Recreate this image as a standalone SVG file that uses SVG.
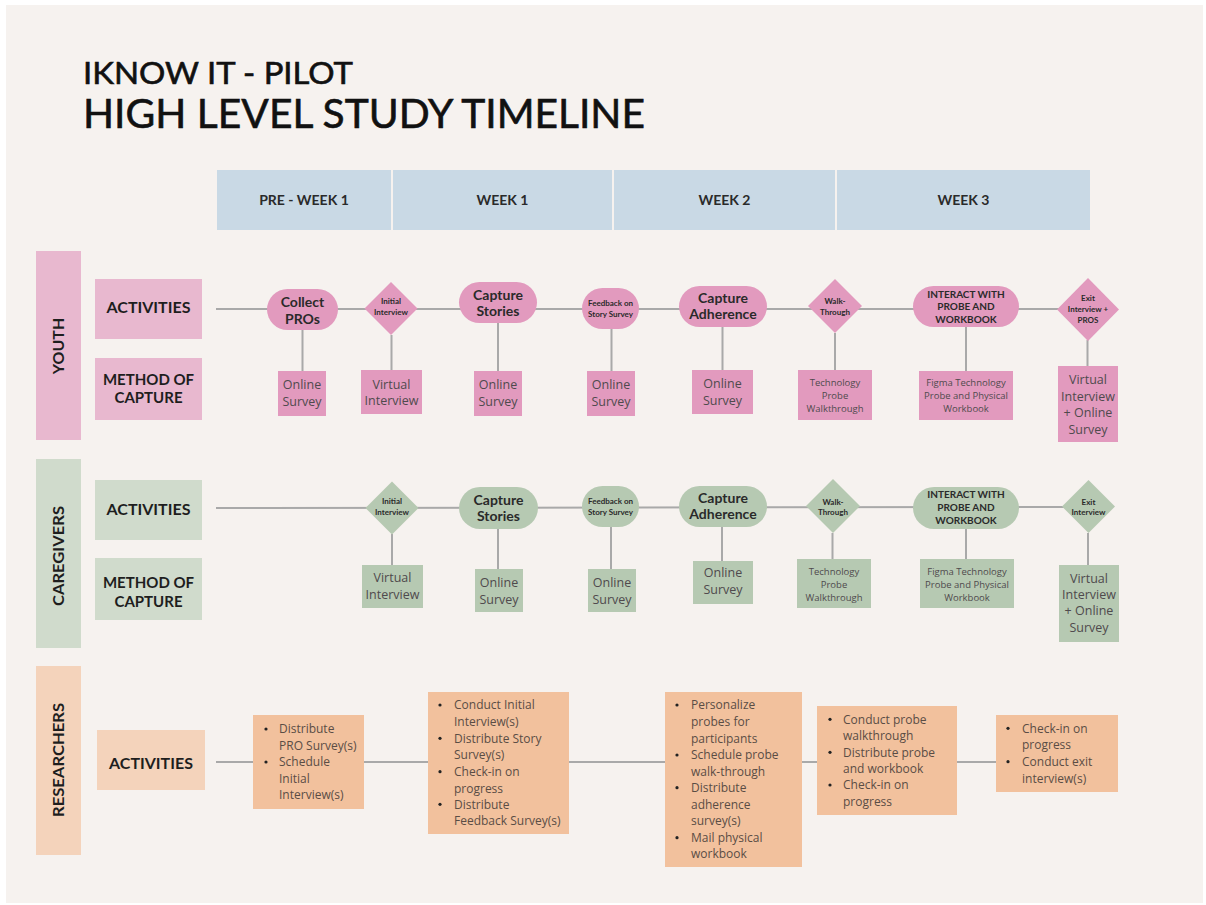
<svg xmlns="http://www.w3.org/2000/svg" width="1206" height="905" viewBox="0 0 1206 905">
  <style>
    .title { font-family: Lato, "Liberation Sans", sans-serif; fill: #111; stroke: #111; stroke-width: 0.6; }
    .hdr { fill: #c9d9e5; }
    .hdrtxt { font-family: Lato, "Liberation Sans", sans-serif; font-weight: 700; font-size: 14px; fill: #2a2a2a; text-anchor: middle; }
    .lbl { font-family: Lato, "Liberation Sans", sans-serif; font-weight: 700; fill: #1e1e1e; text-anchor: middle; }
    .lbl16 { font-size: 16px; }
    .lbl15 { font-size: 15px; }
    .vlbl { font-family: Lato, "Liberation Sans", sans-serif; font-weight: 700; font-size: 16px; fill: #1e1e1e; text-anchor: middle; }
    .pinkL { fill: #e8b8cf; }
    .pink { fill: #e29abe; }
    .greenL { fill: #d0dbcc; }
    .green { fill: #b6c9b2; }
    .orangeL { fill: #f4d3bb; }
    .orange { fill: #f2c19d; }
    .node { font-family: Lato, "Liberation Sans", sans-serif; font-weight: 700; fill: #2a2a2a; text-anchor: middle; }
    .n13 { font-size: 14px; }
    .n10 { font-size: 10px; }
    .n8 { font-size: 8px; }
    .m { font-family: "Open Sans", "Liberation Sans", sans-serif; fill: #4f4a4d; text-anchor: middle; }
    .m13 { font-size: 12.5px; }
    .m10 { font-size: 9.5px; }
    .r { font-family: "Open Sans", "Liberation Sans", sans-serif; font-size: 12px; fill: #5a4d45; }
    .dot { fill: #222; }
    .conn line { stroke: #a9a9a9; stroke-width: 2; }
  </style>

  <!-- page -->
  <rect x="0" y="0" width="1206" height="905" fill="#ffffff"/>
  <rect x="6" y="5" width="1197" height="898" fill="#f6f2ef"/>

  <!-- title -->
  <g id="title">
    <text class="title" x="83" y="84" font-size="30" textLength="270" lengthAdjust="spacingAndGlyphs">IKNOW IT - PILOT</text>
    <text class="title" x="83" y="128" font-size="40" textLength="562" lengthAdjust="spacingAndGlyphs">HIGH LEVEL STUDY TIMELINE</text>
  </g>

  <!-- week header -->
  <g id="header">
    <rect class="hdr" x="217" y="170" width="174" height="60"/>
    <rect class="hdr" x="393" y="170" width="219" height="60"/>
    <rect class="hdr" x="614" y="170" width="221" height="60"/>
    <rect class="hdr" x="837" y="170" width="253" height="60"/>
    <text class="hdrtxt" x="304" y="205">PRE - WEEK 1</text>
    <text class="hdrtxt" x="502.5" y="205">WEEK 1</text>
    <text class="hdrtxt" x="724.5" y="205">WEEK 2</text>
    <text class="hdrtxt" x="963.5" y="205">WEEK 3</text>
  </g>

  <!-- lane labels -->
  <g id="lane-youth">
    <rect class="pinkL" x="36" y="251" width="45" height="189"/>
    <text class="vlbl" transform="translate(58,346) rotate(-90)" y="5.5">YOUTH</text>
    <rect class="pinkL" x="95" y="279" width="107" height="60"/>
    <text class="lbl lbl16" x="148.5" y="313">ACTIVITIES</text>
    <rect class="pinkL" x="95" y="358" width="107" height="62"/>
    <text class="lbl lbl15" x="148.5" y="384.5">METHOD OF</text>
    <text class="lbl lbl15" x="148.5" y="403">CAPTURE</text>
  </g>
  <g id="lane-caregivers">
    <rect class="greenL" x="36" y="459" width="45" height="189"/>
    <text class="vlbl" transform="translate(58,556) rotate(-90)" y="5.5" textLength="100" lengthAdjust="spacingAndGlyphs">CAREGIVERS</text>
    <rect class="greenL" x="95" y="480" width="107" height="60"/>
    <text class="lbl lbl16" x="148.5" y="515">ACTIVITIES</text>
    <rect class="greenL" x="95" y="558" width="107" height="62"/>
    <text class="lbl lbl15" x="148.5" y="588">METHOD OF</text>
    <text class="lbl lbl15" x="148.5" y="606.5">CAPTURE</text>
  </g>
  <g id="lane-researchers">
    <rect class="orangeL" x="36" y="666" width="45" height="189"/>
    <text class="vlbl" transform="translate(58,760) rotate(-90)" y="5.5" textLength="114" lengthAdjust="spacingAndGlyphs">RESEARCHERS</text>
    <rect class="orangeL" x="97" y="730" width="108" height="60"/>
    <text class="lbl lbl16" x="151" y="768.5">ACTIVITIES</text>
  </g>

  <!-- connectors -->
  <g id="connectors" class="conn">
    <line x1="216" y1="309" x2="1060" y2="309"/>
    <line x1="302.5" y1="330" x2="302.5" y2="371"/>
    <line x1="391.5" y1="335" x2="391.5" y2="370"/>
    <line x1="498" y1="323" x2="498" y2="371"/>
    <line x1="611.5" y1="329" x2="611.5" y2="371"/>
    <line x1="722.5" y1="327" x2="722.5" y2="370"/>
    <line x1="835" y1="333" x2="835" y2="370"/>
    <line x1="966" y1="327" x2="966" y2="371"/>
    <line x1="1087.5" y1="340" x2="1087.5" y2="366"/>

    <line x1="216" y1="508" x2="1064" y2="507"/>
    <line x1="392" y1="534" x2="392" y2="565"/>
    <line x1="498" y1="529" x2="498" y2="569"/>
    <line x1="611" y1="527" x2="611" y2="569"/>
    <line x1="722" y1="527" x2="722" y2="561"/>
    <line x1="832.5" y1="533" x2="832.5" y2="559"/>
    <line x1="966" y1="529" x2="966" y2="559"/>
    <line x1="1088" y1="533" x2="1088" y2="565"/>

    <line x1="216" y1="762" x2="996" y2="762"/>
  </g>

  <!-- youth activities -->
  <g id="y-collect-pros">
    <rect class="pink" x="267" y="289" width="71" height="41" rx="20.5"/>
    <text class="node n13" x="302.5" y="306.5">Collect</text>
    <text class="node n13" x="302.5" y="323.5">PROs</text>
  </g>
  <g id="y-initial-interview">
    <polygon class="pink" points="391,282 417.5,308.5 391,335 364.5,308.5"/>
    <text class="node n8" x="391" y="304">Initial</text>
    <text class="node n8" x="391" y="315">Interview</text>
  </g>
  <g id="y-capture-stories">
    <rect class="pink" x="459" y="282" width="78" height="41" rx="20.5"/>
    <text class="node n13" x="498" y="300">Capture</text>
    <text class="node n13" x="498" y="316">Stories</text>
  </g>
  <g id="y-feedback">
    <rect class="pink" x="582" y="288" width="57" height="41" rx="20.5"/>
    <text class="node n8" x="610.5" y="306">Feedback on</text>
    <text class="node n8" x="610.5" y="317">Story Survey</text>
  </g>
  <g id="y-capture-adherence">
    <rect class="pink" x="679" y="286" width="88" height="41" rx="20.5"/>
    <text class="node n13" x="723" y="302.5">Capture</text>
    <text class="node n13" x="723" y="318.5">Adherence</text>
  </g>
  <g id="y-walkthrough">
    <polygon class="pink" points="835,279 862,306 835,333 808,306"/>
    <text class="node n8" x="835" y="304">Walk-</text>
    <text class="node n8" x="835" y="315">Through</text>
  </g>
  <g id="y-interact">
    <rect class="pink" x="913" y="286" width="106" height="41" rx="20.5"/>
    <text class="node n10" x="966" y="297.5">INTERACT WITH</text>
    <text class="node n10" x="966" y="309.5">PROBE AND</text>
    <text class="node n10" x="966" y="322.5">WORKBOOK</text>
  </g>
  <g id="y-exit">
    <polygon class="pink" points="1088,278 1119,309.5 1088,341 1057,309.5"/>
    <text class="node n8" x="1088" y="301">Exit</text>
    <text class="node n8" x="1088" y="312">Interview +</text>
    <text class="node n8" x="1088" y="323">PROS</text>
  </g>

  <!-- youth method of capture -->
  <g id="y-m1">
    <rect class="pink" x="278" y="371" width="48" height="45"/>
    <text class="m m13" x="302" y="388.5">Online</text>
    <text class="m m13" x="302" y="405.5">Survey</text>
  </g>
  <g id="y-m2">
    <rect class="pink" x="361" y="370" width="61" height="44"/>
    <text class="m m13" x="391.5" y="388.5">Virtual</text>
    <text class="m m13" x="391.5" y="405">Interview</text>
  </g>
  <g id="y-m3">
    <rect class="pink" x="474" y="371" width="48" height="45"/>
    <text class="m m13" x="498" y="388.5">Online</text>
    <text class="m m13" x="498" y="405.5">Survey</text>
  </g>
  <g id="y-m4">
    <rect class="pink" x="587" y="371" width="48" height="45"/>
    <text class="m m13" x="611" y="388.5">Online</text>
    <text class="m m13" x="611" y="405.5">Survey</text>
  </g>
  <g id="y-m5">
    <rect class="pink" x="692" y="370" width="61" height="44"/>
    <text class="m m13" x="722.5" y="388">Online</text>
    <text class="m m13" x="722.5" y="404.5">Survey</text>
  </g>
  <g id="y-m6">
    <rect class="pink" x="798" y="370" width="74" height="50"/>
    <text class="m m10" x="835" y="385.5">Technology</text>
    <text class="m m10" x="835" y="399">Probe</text>
    <text class="m m10" x="835" y="411.5">Walkthrough</text>
  </g>
  <g id="y-m7">
    <rect class="pink" x="919" y="371" width="94" height="49"/>
    <text class="m m10" x="966" y="385.5">Figma Technology</text>
    <text class="m m10" x="966" y="399">Probe and Physical</text>
    <text class="m m10" x="966" y="411.5">Workbook</text>
  </g>
  <g id="y-m8">
    <rect class="pink" x="1058" y="366" width="60" height="76"/>
    <text class="m m13" x="1088" y="383.5">Virtual</text>
    <text class="m m13" x="1088" y="400.5">Interview</text>
    <text class="m m13" x="1088" y="416.5">+ Online</text>
    <text class="m m13" x="1088" y="433.5">Survey</text>
  </g>

  <!-- caregiver activities -->
  <g id="c-initial-interview">
    <polygon class="green" points="392,481.5 418.5,508 392,534.5 365.5,508"/>
    <text class="node n8" x="392" y="504">Initial</text>
    <text class="node n8" x="392" y="515">Interview</text>
  </g>
  <g id="c-capture-stories">
    <rect class="green" x="459" y="487" width="79" height="42" rx="21"/>
    <text class="node n13" x="498.5" y="505">Capture</text>
    <text class="node n13" x="498.5" y="521">Stories</text>
  </g>
  <g id="c-feedback">
    <rect class="green" x="582" y="486" width="57" height="41" rx="20.5"/>
    <text class="node n8" x="610.5" y="504">Feedback on</text>
    <text class="node n8" x="610.5" y="515">Story Survey</text>
  </g>
  <g id="c-capture-adherence">
    <rect class="green" x="679" y="486" width="88" height="41" rx="20.5"/>
    <text class="node n13" x="723" y="503">Capture</text>
    <text class="node n13" x="723" y="519">Adherence</text>
  </g>
  <g id="c-walkthrough">
    <polygon class="green" points="833,479 860,506 833,533 806,506"/>
    <text class="node n8" x="833" y="504.5">Walk-</text>
    <text class="node n8" x="833" y="515">Through</text>
  </g>
  <g id="c-interact">
    <rect class="green" x="913" y="487" width="106" height="42" rx="21"/>
    <text class="node n10" x="966" y="498">INTERACT WITH</text>
    <text class="node n10" x="966" y="511">PROBE AND</text>
    <text class="node n10" x="966" y="524">WORKBOOK</text>
  </g>
  <g id="c-exit">
    <polygon class="green" points="1088.5,480 1115,506.5 1088.5,533 1062,506.5"/>
    <text class="node n8" x="1088.5" y="504.5">Exit</text>
    <text class="node n8" x="1088.5" y="515">Interview</text>
  </g>

  <!-- caregiver method of capture -->
  <g id="c-m1">
    <rect class="green" x="362" y="565" width="61" height="43"/>
    <text class="m m13" x="392.5" y="582">Virtual</text>
    <text class="m m13" x="392.5" y="598.5">Interview</text>
  </g>
  <g id="c-m2">
    <rect class="green" x="475" y="569" width="48" height="43"/>
    <text class="m m13" x="499" y="586.5">Online</text>
    <text class="m m13" x="499" y="603.5">Survey</text>
  </g>
  <g id="c-m3">
    <rect class="green" x="588" y="569" width="48" height="43"/>
    <text class="m m13" x="612" y="586.5">Online</text>
    <text class="m m13" x="612" y="603.5">Survey</text>
  </g>
  <g id="c-m4">
    <rect class="green" x="693" y="561" width="60" height="43"/>
    <text class="m m13" x="723" y="577">Online</text>
    <text class="m m13" x="723" y="594">Survey</text>
  </g>
  <g id="c-m5">
    <rect class="green" x="797" y="559" width="74" height="49"/>
    <text class="m m10" x="834" y="575">Technology</text>
    <text class="m m10" x="834" y="588">Probe</text>
    <text class="m m10" x="834" y="600.5">Walkthrough</text>
  </g>
  <g id="c-m6">
    <rect class="green" x="920" y="559" width="94" height="49"/>
    <text class="m m10" x="967" y="575">Figma Technology</text>
    <text class="m m10" x="967" y="588">Probe and Physical</text>
    <text class="m m10" x="967" y="600.5">Workbook</text>
  </g>
  <g id="c-m7">
    <rect class="green" x="1059" y="565" width="60" height="77"/>
    <text class="m m13" x="1089" y="582.5">Virtual</text>
    <text class="m m13" x="1089" y="599">Interview</text>
    <text class="m m13" x="1089" y="615">+ Online</text>
    <text class="m m13" x="1089" y="632">Survey</text>
  </g>

  <!-- researcher activities -->
  <g id="r-pre-week1">
    <rect class="orange" x="253" y="715" width="111" height="94"/>
    <circle class="dot" cx="266" cy="729" r="1.6"/>
    <circle class="dot" cx="266" cy="762" r="1.6"/>
    <text class="r" x="279" y="733">Distribute</text>
    <text class="r" x="279" y="749.5">PRO Survey(s)</text>
    <text class="r" x="279" y="766">Schedule</text>
    <text class="r" x="279" y="782.5">Initial</text>
    <text class="r" x="279" y="798.5">Interview(s)</text>
  </g>
  <g id="r-week1">
    <rect class="orange" x="428" y="692" width="141" height="142"/>
    <circle class="dot" cx="440" cy="705" r="1.6"/>
    <circle class="dot" cx="440" cy="738.3" r="1.6"/>
    <circle class="dot" cx="440" cy="771.7" r="1.6"/>
    <circle class="dot" cx="440" cy="804.3" r="1.6"/>
    <text class="r" x="454" y="709.3">Conduct Initial</text>
    <text class="r" x="454" y="726">Interview(s)</text>
    <text class="r" x="454" y="742.6">Distribute Story</text>
    <text class="r" x="454" y="759.3">Survey(s)</text>
    <text class="r" x="454" y="776">Check-in on</text>
    <text class="r" x="454" y="792.6">progress</text>
    <text class="r" x="454" y="808.6">Distribute</text>
    <text class="r" x="454" y="825.3">Feedback Survey(s)</text>
  </g>
  <g id="r-week2">
    <rect class="orange" x="665" y="692" width="137" height="175"/>
    <circle class="dot" cx="677" cy="705" r="1.6"/>
    <circle class="dot" cx="677" cy="755" r="1.6"/>
    <circle class="dot" cx="677" cy="787.7" r="1.6"/>
    <circle class="dot" cx="677" cy="837.7" r="1.6"/>
    <text class="r" x="691" y="709.3">Personalize</text>
    <text class="r" x="691" y="726">probes for</text>
    <text class="r" x="691" y="742.6">participants</text>
    <text class="r" x="691" y="759.3">Schedule probe</text>
    <text class="r" x="691" y="776">walk-through</text>
    <text class="r" x="691" y="792">Distribute</text>
    <text class="r" x="691" y="808.6">adherence</text>
    <text class="r" x="691" y="825.3">survey(s)</text>
    <text class="r" x="691" y="842">Mail physical</text>
    <text class="r" x="691" y="857.6">workbook</text>
  </g>
  <g id="r-week3a">
    <rect class="orange" x="817" y="706" width="140" height="109"/>
    <circle class="dot" cx="830" cy="719.3" r="1.6"/>
    <circle class="dot" cx="830" cy="752.3" r="1.6"/>
    <circle class="dot" cx="830" cy="785" r="1.6"/>
    <text class="r" x="843" y="723.6">Conduct probe</text>
    <text class="r" x="843" y="740">walkthrough</text>
    <text class="r" x="843" y="756.6">Distribute probe</text>
    <text class="r" x="843" y="772.6">and workbook</text>
    <text class="r" x="843" y="789.3">Check-in on</text>
    <text class="r" x="843" y="806">progress</text>
  </g>
  <g id="r-week3b">
    <rect class="orange" x="996" y="715" width="122" height="77"/>
    <circle class="dot" cx="1008" cy="728.3" r="1.6"/>
    <circle class="dot" cx="1008" cy="761.7" r="1.6"/>
    <text class="r" x="1022" y="732.6">Check-in on</text>
    <text class="r" x="1022" y="749.3">progress</text>
    <text class="r" x="1022" y="766">Conduct exit</text>
    <text class="r" x="1022" y="782.6">interview(s)</text>
  </g>
</svg>
